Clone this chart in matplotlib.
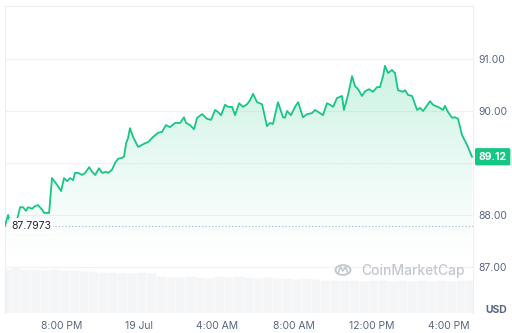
import numpy as np
import matplotlib
matplotlib.use("Agg")
import matplotlib.pyplot as plt
from matplotlib.patches import Polygon, Circle
import matplotlib.transforms as mtransforms

plt.rcParams['font.family'] = ['Inter', 'DejaVu Sans']

# price, time in hours from midnight of 18 Jul (24 = 19 Jul 00:00)
hours = [17.05, 17.21, 17.36, 17.52, 17.67, 17.83, 17.98, 18.14, 18.24, 18.45,
         18.60, 18.76, 18.97, 19.07, 19.33, 19.48, 19.74, 19.95, 20.10, 20.26,
         20.41, 20.57, 20.67, 20.83, 21.03, 21.19, 21.40, 21.55, 21.71, 21.91,
         22.07, 22.27, 22.38, 22.58, 22.74, 22.89, 23.10, 23.20, 23.31, 23.41,
         23.51, 23.67, 23.93, 24.13, 24.29, 24.44, 24.70, 24.96, 25.17, 25.37,
         25.58, 25.84, 26.10, 26.30, 26.41, 26.61, 26.82, 26.98, 27.24, 27.49,
         27.70, 27.91, 28.06, 28.22, 28.42, 28.58, 28.79, 28.94, 29.15, 29.35,
         29.56, 29.72, 29.87, 30.08, 30.34, 30.59, 30.75, 30.90, 31.16, 31.42,
         31.52, 31.63, 31.83, 32.04, 32.20, 32.45, 32.66, 32.92, 33.07, 33.33,
         33.49, 33.69, 33.85, 34.01, 34.21, 34.47, 34.57, 34.78, 34.99, 35.14,
         35.30, 35.50, 35.66, 35.87, 36.07, 36.28, 36.43, 36.59, 36.69, 36.85,
         37.05, 37.21, 37.36, 37.62, 37.73, 37.88, 38.09, 38.35, 38.50, 38.66,
         39.02, 39.17, 39.53, 39.69, 39.79, 39.95, 40.16, 40.31, 40.47, 40.67,
         40.93, 41.19]
price = [87.7973, 88.00, 87.79, 87.75, 87.90, 88.15, 88.15, 88.08, 88.15, 88.12,
         88.17, 88.19, 88.10, 88.04, 88.04, 88.71, 88.58, 88.46, 88.71, 88.65,
         88.71, 88.67, 88.81, 88.81, 88.77, 88.81, 88.92, 88.83, 88.77, 88.90,
         88.81, 88.83, 88.81, 88.87, 89.00, 89.08, 89.10, 89.12, 89.38, 89.48,
         89.67, 89.50, 89.31, 89.35, 89.38, 89.40, 89.50, 89.58, 89.60, 89.73,
         89.69, 89.77, 89.77, 89.88, 89.77, 89.73, 89.65, 89.87, 89.94, 89.85,
         89.83, 90.02, 89.98, 89.92, 90.12, 90.08, 90.08, 89.92, 90.15, 90.08,
         90.13, 90.21, 90.33, 90.17, 90.13, 89.71, 89.77, 89.75, 90.17, 89.88,
         89.87, 90.00, 89.92, 90.08, 90.17, 89.88, 89.94, 89.96, 90.02, 89.96,
         89.92, 90.15, 90.12, 90.08, 90.25, 90.29, 90.02, 90.31, 90.67, 90.48,
         90.42, 90.29, 90.38, 90.42, 90.37, 90.46, 90.46, 90.67, 90.87, 90.73,
         90.79, 90.73, 90.40, 90.37, 90.40, 90.31, 90.29, 90.02, 90.06, 90.00,
         90.19, 90.12, 90.06, 90.02, 90.10, 89.98, 89.87, 89.88, 89.85, 89.54,
         89.35, 89.12]

open_price = 87.7973
last_price = 89.12

# volume, half-hour buckets (relative units)
vol_hours = [17.1 + 0.5 * i for i in range(49)]
volume = [44, 45, 44, 44, 43, 44, 43, 43, 42, 42, 41, 41, 40, 40, 41, 40,
          37, 36, 36, 37, 36, 35, 37, 36, 37, 36, 35, 36, 35, 35, 34, 35,
          34, 33, 33, 33, 33, 32, 33, 33, 32, 33, 32, 33, 32, 33, 32, 33, 33]

tick_hours = [20, 24, 28, 32, 36, 40]
tick_labels = ["8:00 PM", "19 Jul", "4:00 AM", "8:00 AM", "12:00 PM", "4:00 PM"]
price_ticks = [87, 88, 89, 90, 91]
price_labels = ["87.00", "88.00", "", "90.00", "91.00"]

green = "#16c784"
grey_text = "#58667e"
grid_col = "#eff2f5"

fig = plt.figure(figsize=(5.12, 3.33), dpi=100)
ax = fig.add_axes([5 / 512, 1 - 313 / 333, 468 / 512, 307 / 333])
axv = ax.twinx()

# volume bars behind price
axv.bar(vol_hours, volume, width=0.5, color="#f4f5f7", edgecolor="#fcfcfd",
        linewidth=0.4, align="center")
axv.set_ylim(0, 307)
axv.set_yticks([])
for s in axv.spines.values():
    s.set_visible(False)
ax.set_zorder(axv.get_zorder() + 1)
ax.patch.set_visible(False)

xmin, xmax = 17.05, 41.24
ymin, ymax = 86.115, 92.02

# gradient fill under line
verts = [(hours[0], 87.0)] + list(zip(hours, price)) + [(hours[-1], 87.0)]
poly = Polygon(verts, closed=True, facecolor="none", edgecolor="none")
ax.add_patch(poly)
grad = np.zeros((256, 1, 4))
grad[:, 0, 0] = 0x16 / 255
grad[:, 0, 1] = 0xc7 / 255
grad[:, 0, 2] = 0x84 / 255
grad[:, 0, 3] = np.linspace(0.0, 0.32, 256) ** 1.3
im = ax.imshow(grad, extent=[hours[0], hours[-1], 87.0, max(price)],
               aspect="auto", origin="lower", zorder=1)
im.set_clip_path(poly)

ax.plot(hours, price, color=green, linewidth=1.3, zorder=3,
        solid_joinstyle="round")

# open price reference
ax.axhline(open_price, color="#a6b0c3", linestyle=(0, (1, 2)), linewidth=0.8,
           zorder=2)
ax.text(0.013, open_price, "87.7973", transform=mtransforms.blended_transform_factory(ax.transAxes, ax.transData),
        fontsize=7.5, color="#222531", va="center", ha="left", zorder=4,
        bbox=dict(facecolor="white", edgecolor="none", pad=1.5))

ax.set_xlim(xmin, xmax)
ax.set_ylim(ymin, ymax)

ax.set_yticks(price_ticks)
ax.set_yticklabels(price_labels)
ax.yaxis.tick_right()
ax.grid(axis="y", color=grid_col, linewidth=0.8)
ax.set_axisbelow(True)
ax.tick_params(axis="y", length=0, pad=4, labelsize=7.5, labelcolor=grey_text)

ax.set_xticks(tick_hours)
ax.set_xticklabels(tick_labels)
ax.tick_params(axis="x", length=0, pad=6, labelsize=7.5, labelcolor=grey_text)

for name, s in ax.spines.items():
    s.set_color("#edeff2")
    s.set_linewidth(0.8)
ax.spines["bottom"].set_visible(False)

# last price badge
ax.text(1.012, last_price, "89.12",
        transform=mtransforms.blended_transform_factory(ax.transAxes, ax.transData),
        fontsize=7.5, fontweight="bold", color="white", va="center", ha="left",
        zorder=5, clip_on=False,
        bbox=dict(boxstyle="round,pad=0.35,rounding_size=0.15", facecolor=green,
                  edgecolor="none"))

fig.text(496 / 512, 1 - 310 / 333, "USD", fontsize=7.5, fontweight="bold",
         color=grey_text, ha="center", va="center")

# watermark
fig.text(361 / 512, 1 - 271 / 333, "CoinMarketCap", fontsize=10, color="#c3c8d0",
         ha="left", va="center", fontweight="medium")
logo = Circle((343 / 512, 1 - 270 / 333), 7.5 / 512, transform=fig.transFigure,
              facecolor="none", edgecolor="#c3c8d0", linewidth=1.4)
fig.patches.append(logo)
# w-shaped mark inside logo
mx = np.array([338, 340.5, 343, 345.5, 348]) / 512
my = 1 - np.array([273, 267, 271, 267, 273]) / 333
fig.lines.append(plt.Line2D(mx, my, transform=fig.transFigure, color="#c3c8d0",
                            linewidth=1.2, solid_joinstyle="round"))

fig.savefig("out.png", dpi=100)
